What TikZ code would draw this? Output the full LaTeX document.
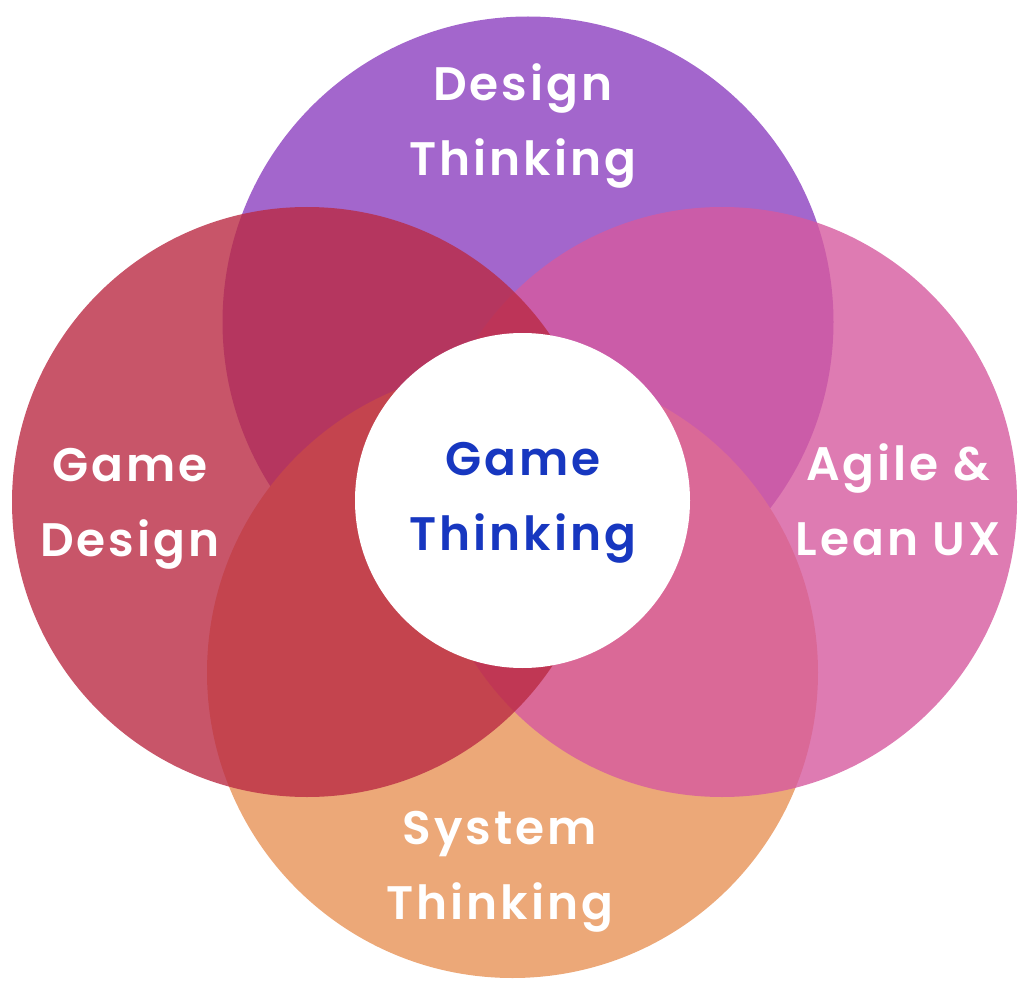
\documentclass[tikz,border=0pt]{standalone}
\usepackage{fontspec}
\setmainfont{Poppins}
\newfontfamily\labfont{Poppins}[LetterSpace=6.5,BoldFont={Poppins SemiBold}]
\definecolor{cpurple}{HTML}{A366CC}
\definecolor{corange}{HTML}{ECA878}
\definecolor{cpink}{RGB}{214,90,159}
\definecolor{cred}{RGB}{186,43,68}
\definecolor{cblue}{HTML}{1737C0}
\begin{document}
\begin{tikzpicture}[x=0.5pt,y=-0.5pt,
  lab/.style={text=white,align=center,font=\labfont\bfseries\fontsize{23.5}{37.5}\selectfont,inner sep=0pt}]
\useasboundingbox (0,0) rectangle (1024,995);
\fill[cpurple] (528,322) circle (305.5);
\fill[corange] (512.5,672.5) circle (305.5);
\fill[cpink,fill opacity=0.8] (722,502) circle (295);
\fill[cred,fill opacity=0.8] (307,502) circle (295);
\node[circle,fill=white,minimum size=167.5pt,inner sep=0pt] (core) at (522.5,500.5) {};
\node[lab] (dt) at (523,126) {Design\\Thinking};
\node[lab] (gd) at (130,509) {Game\\Design};
\node[lab] (ag) at (898,500) {Agile \&\\Lean UX};
\node[lab] (st) at (500,872) {System\\Thinking};
\node[lab,text=cblue] (gt) at (523,503) {Game\\Thinking};
\end{tikzpicture}
\end{document}
